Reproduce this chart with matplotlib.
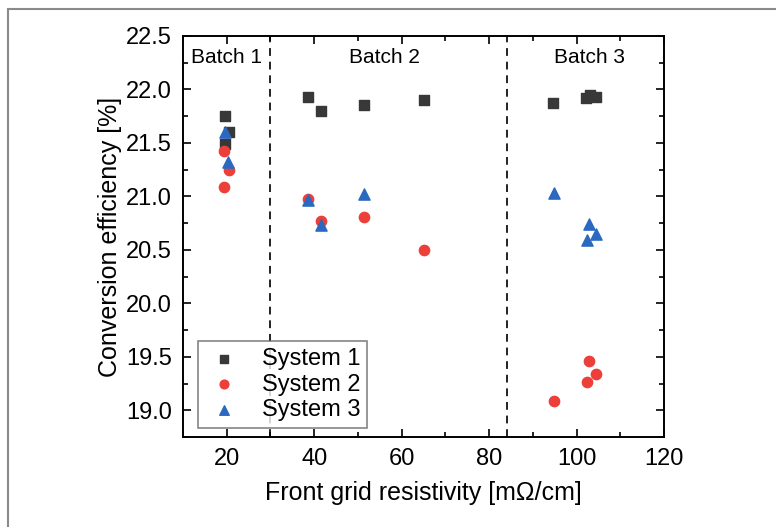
import matplotlib.pyplot as plt
from matplotlib.patches import Rectangle

plt.rcParams['font.family'] = ['Liberation Sans', 'DejaVu Sans']

# data
x_s1 = [19.6, 20.6, 19.6, 38.6, 41.5, 51.4, 65.1, 94.6, 102.2, 103.0, 104.4]
y_s1 = [21.75, 21.60, 21.49, 21.93, 21.80, 21.85, 21.90, 21.87, 21.92, 21.95, 21.93]

x_s2 = [19.4, 20.5, 19.4, 38.6, 41.5, 51.4, 65.1, 94.8, 102.9, 104.4, 102.4]
y_s2 = [21.42, 21.25, 21.09, 20.98, 20.77, 20.81, 20.50, 19.09, 19.46, 19.34, 19.26]

x_s3 = [19.6, 20.4, 38.6, 41.5, 51.4, 94.8, 102.9, 104.4, 102.4]
y_s3 = [21.60, 21.32, 20.97, 20.73, 21.02, 21.03, 20.74, 20.65, 20.59]

batch_edges = [30, 84]
batch_labels = ["Batch 1", "Batch 2", "Batch 3"]
batch_label_x = [20, 56, 103]

fig = plt.figure(figsize=(7.76, 5.27), dpi=100)
ax = fig.add_axes([0.2358, 0.1708, 0.6199, 0.7609])

# thin gray frame around the figure (as in the source image)
fig.patches.append(Rectangle((8 / 776, -0.1), 1.2, 1 - 9 / 527 + 0.1,
                             transform=fig.transFigure, fill=False,
                             edgecolor='#8a8a8a', linewidth=1.5))

ax.scatter(x_s1, y_s1, marker='s', s=50, color='#383838', label='System 1', zorder=3)
ax.scatter(x_s2, y_s2, marker='o', s=55, color='#ec3f3a', label='System 2', zorder=3)
ax.scatter(x_s3, y_s3, marker='^', s=65, color='#2b68c0', label='System 3', zorder=4)

for xe in batch_edges:
    ax.axvline(xe, color='#222222', linestyle=(0, (4, 3)), linewidth=1.4, zorder=1)

for lbl, xl in zip(batch_labels, batch_label_x):
    ax.text(xl, 22.3, lbl, ha='center', va='center', fontsize=15)

ax.set_xlim(10, 120)
ax.set_ylim(18.83, 22.5)
ax.set_xticks([20, 40, 60, 80, 100, 120])
ax.set_xticks(range(10, 121, 10), minor=True)
ax.set_yticks([19.0, 19.5, 20.0, 20.5, 21.0, 21.5, 22.0, 22.5])
ax.set_yticks([18.75 + 0.25 * i for i in range(16)], minor=True)
ax.set_yticklabels([f"{v:.1f}" for v in [19.0, 19.5, 20.0, 20.5, 21.0, 21.5, 22.0, 22.5]])

ax.tick_params(which='both', direction='in', top=True, right=True, labelsize=17, width=1.2)
ax.tick_params(which='major', length=6, pad=8)
ax.tick_params(which='minor', length=3.5)
for sp in ax.spines.values():
    sp.set_linewidth(1.4)

ax.set_xlabel("Front grid resistivity [m\u03a9/cm]", fontsize=18, labelpad=8)
ax.set_ylabel("Conversion efficiency [%]", fontsize=18, labelpad=3)

leg = ax.legend(loc='lower left', fontsize=17, frameon=True, fancybox=False,
                edgecolor='#666666', handletextpad=0.8, handlelength=1.6,
                borderpad=0.3, borderaxespad=0, labelspacing=0.15,
                markerscale=0.85, bbox_to_anchor=(0.031, 0.022))
leg.get_frame().set_linewidth(1.2)

fig.savefig('out.png', dpi=100, facecolor='white')
